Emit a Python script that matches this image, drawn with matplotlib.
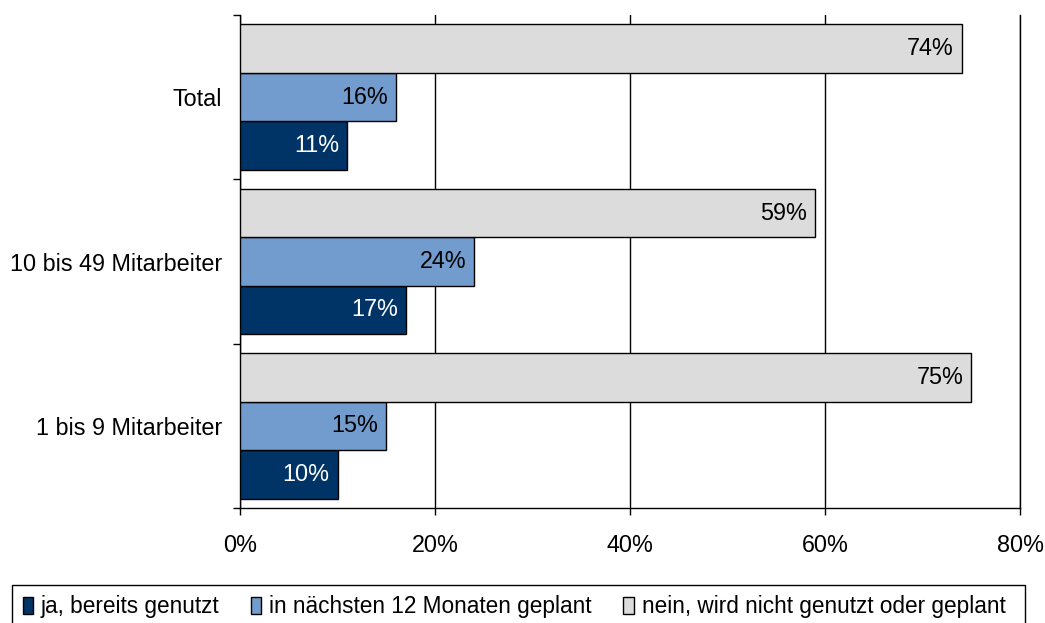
import matplotlib.pyplot as plt
import numpy as np
from matplotlib.patches import Patch, Rectangle

# Daten
categories = ["Total", "10 bis 49 Mitarbeiter", "1 bis 9 Mitarbeiter"]
series_names = ["ja, bereits genutzt", "in nächsten 12 Monaten geplant",
                "nein, wird nicht genutzt oder geplant"]
ja = [11, 17, 10]
geplant = [16, 24, 15]
nein = [74, 59, 75]
x_ticks = [0, 20, 40, 60, 80]

colors = ["#003366", "#739CCE", "#DCDCDC"]
text_colors = ["white", "black", "black"]

plt.rcParams["font.family"] = ["Liberation Sans", "DejaVu Sans"]
fs = 16.8

fig = plt.figure(figsize=(10.45, 6.23), dpi=100)
ax = fig.add_axes([240 / 1045, 1 - 508 / 623, 780 / 1045, 493 / 623])

n = len(categories)
centers = np.arange(n)
bar_h = 0.295
# Reihenfolge von unten nach oben: ja, geplant, nein
offsets = [bar_h, 0, -bar_h]
values = [ja, geplant, nein]

for vals, off, col, tcol in zip(values, offsets, colors, text_colors):
    bars = ax.barh(centers + off, vals, height=bar_h, color=col,
                   edgecolor="black", linewidth=1, zorder=3)
    for b, v in zip(bars, vals):
        ax.text(v - 0.8, b.get_y() + b.get_height() / 2, f"{v}%",
                ha="right", va="center", fontsize=fs, color=tcol, zorder=4)

ax.set_ylim(n - 0.5, -0.5)
ax.set_xlim(0, 80)

# Kategorie-Beschriftungen
ax.set_yticks(centers)
ax.set_yticklabels(categories, fontsize=fs)
ax.tick_params(axis="y", which="major", length=0, pad=13)
ax.set_yticks(np.arange(-0.5, n, 1), minor=True)
ax.tick_params(axis="y", which="minor", length=5, width=1, direction="out")

ax.set_xticks(x_ticks)
ax.set_xticklabels([f"{t}%" for t in x_ticks], fontsize=fs)
ax.tick_params(axis="x", length=5, width=1, direction="out", pad=14)

ax.grid(axis="x", color="black", linewidth=1, zorder=0)
ax.spines["top"].set_visible(False)
ax.spines["right"].set_color("black")
ax.spines["right"].set_linewidth(1)
ax.spines["right"].set_zorder(0)
ax.spines["left"].set_linewidth(1)
ax.spines["bottom"].set_linewidth(1)

# Legendenrahmen
fig.patches.append(Rectangle((12 / 1045, -0.05), 1013 / 1045, 0.05 + 38 / 623,
                             transform=fig.transFigure, facecolor="none",
                             edgecolor="black", linewidth=1))

handles = [Patch(facecolor=c, edgecolor="black", linewidth=1) for c in colors]
leg = fig.legend(handles, series_names, loc="center",
                 bbox_to_anchor=(514 / 1045, 1 - 607 / 623),
                 ncol=3, fontsize=16.3, frameon=False,
                 handlelength=0.45, handleheight=0.75, handletextpad=0.35,
                 columnspacing=1.4, borderaxespad=0)

fig.savefig("out.png", dpi=100)
